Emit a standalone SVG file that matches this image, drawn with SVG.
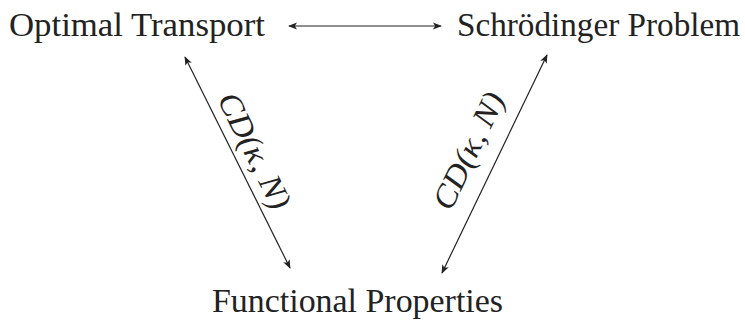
<svg xmlns="http://www.w3.org/2000/svg" width="745" height="321" viewBox="0 0 745 321">
<style>
.t{font-family:"Liberation Serif","Times New Roman",serif;font-size:33px;fill:#222}
.m{font-family:"Liberation Serif","Times New Roman",serif;font-size:32px;font-style:italic;fill:#222}
.c{stroke:#222;stroke-width:1.2;fill:none;marker-start:url(#a);marker-end:url(#a)}
</style>
<defs>
<marker id="a" viewBox="0 0 10 10" refX="9" refY="5" markerWidth="9" markerHeight="9" markerUnits="userSpaceOnUse" orient="auto-start-reverse">
<path d="M0,1 L10,5 L0,9 L2.5,5 Z" fill="#222"/>
</marker>
</defs>
<g id="ot"><text class="t" x="9" y="36" textLength="256" lengthAdjust="spacingAndGlyphs">Optimal Transport</text></g>
<g id="sp"><text class="t" x="457" y="36" textLength="283" lengthAdjust="spacingAndGlyphs">Schrödinger Problem</text></g>
<g id="fp"><text class="t" x="212" y="312" textLength="291" lengthAdjust="spacingAndGlyphs">Functional Properties</text></g>
<g id="connectors">
<line class="c" x1="289" y1="26" x2="441" y2="26"/>
<line class="c" x1="185" y1="57" x2="290" y2="268"/>
<line class="c" x1="442" y1="273" x2="547" y2="55"/>
<text class="m" transform="translate(254,151) rotate(63.5)" text-anchor="middle" textLength="126" lengthAdjust="spacingAndGlyphs" dy="10">CD(κ, N)</text>
<text class="m" transform="translate(469,151) rotate(-64.3)" text-anchor="middle" textLength="126" lengthAdjust="spacingAndGlyphs" dy="10">CD(κ, N)</text>
</g>
</svg>
